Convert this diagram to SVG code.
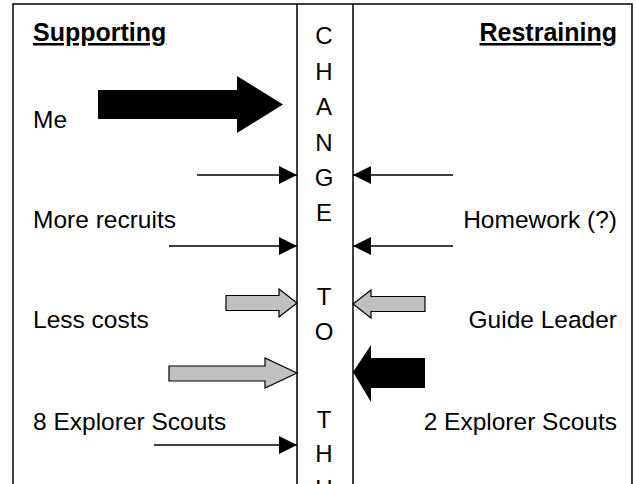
<svg xmlns="http://www.w3.org/2000/svg" width="636" height="484" viewBox="0 0 636 484">
<style>
text{font-family:"Liberation Sans",Arial,sans-serif;font-size:24.5px;fill:#000}
.h{font-weight:bold;font-size:25px;text-decoration:underline}
.col{text-anchor:middle;font-size:24px}
.end{text-anchor:end}
.frame{fill:none;stroke:#000;stroke-width:1.5}
.thin{stroke:#000;stroke-width:1.5;fill:none}
.gray{fill:#c0c0c0;stroke:#000;stroke-width:1.2}
.black{fill:#000;stroke:none}
</style>
<defs>
<marker id="ah" viewBox="0 0 18 18" refX="18" refY="9" markerWidth="18" markerHeight="18" markerUnits="userSpaceOnUse" orient="auto">
<path d="M0,0 L18,9 L0,18 Z" fill="#000"/>
</marker>
</defs>
<rect width="636" height="484" fill="#fff"/>
<g id="frame">
<path class="frame" d="M13,490 V4 H632 V490"/>
<line class="frame" x1="297" y1="4" x2="297" y2="490"/>
<line class="frame" x1="353" y1="4" x2="353" y2="490"/>
</g>
<g id="headers">
<text id="supporting" class="h" x="33" y="41">Supporting</text>
<text id="restraining" class="h end" x="617" y="41">Restraining</text>
</g>
<g id="change-column">
<text class="col" x="324" y="44">C</text>
<text class="col" x="324" y="80">H</text>
<text class="col" x="324" y="115">A</text>
<text class="col" x="324" y="151">N</text>
<text class="col" x="324" y="186">G</text>
<text class="col" x="324" y="221">E</text>
<text class="col" x="324" y="305">T</text>
<text class="col" x="324" y="340">O</text>
<text class="col" x="324" y="428">T</text>
<text class="col" x="324" y="462">H</text>
<text class="col" x="324" y="497">U</text>
</g>
<g id="supporting-forces">
<g id="me"><text x="33" y="128">Me</text></g>
<g id="more-recruits"><text x="33" y="228">More recruits</text></g>
<g id="less-costs"><text x="33" y="328">Less costs</text></g>
<g id="explorers-8"><text x="33" y="430">8 Explorer Scouts</text></g>
</g>
<g id="restraining-forces">
<g id="homework"><text class="end" x="617" y="228">Homework (?)</text></g>
<g id="guide-leader"><text class="end" x="617" y="328">Guide Leader</text></g>
<g id="explorers-2"><text class="end" x="617" y="430">2 Explorer Scouts</text></g>
</g>
<g id="connectors">
<path class="black" d="M98,90 H237 V76 L283,104.5 L237,133 V119 H98 Z"/>
<line class="thin" x1="197" y1="175" x2="297" y2="175" marker-end="url(#ah)"/>
<line class="thin" x1="453" y1="175" x2="353" y2="175" marker-end="url(#ah)"/>
<line class="thin" x1="169" y1="246" x2="297" y2="246" marker-end="url(#ah)"/>
<line class="thin" x1="453" y1="246" x2="353" y2="246" marker-end="url(#ah)"/>
<path class="gray" d="M226,295.5 H279 V289 L297,303 L279,317 V310.5 H226 Z"/>
<path class="gray" d="M425,296.5 H371 V290 L353,304 L371,318 V311.5 H425 Z"/>
<path class="gray" d="M169,366 H265 V358 L297,373 L265,388 V381 H169 Z"/>
<path class="black" d="M425,358 H371 V345 L353,372 L371,402 V388 H425 Z"/>
<line class="thin" x1="154" y1="445" x2="297" y2="445" marker-end="url(#ah)"/>
</g>
</svg>
